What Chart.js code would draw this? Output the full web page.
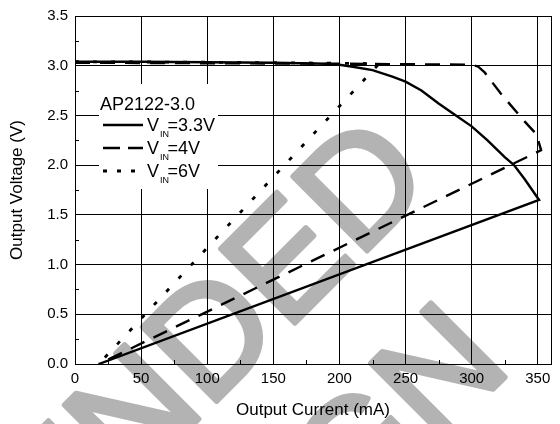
<!DOCTYPE html>
<html><head><meta charset="utf-8">
<script src="https://cdn.jsdelivr.net/npm/chart.js@4.4.1/dist/chart.umd.min.js"></script>
<style>html,body{margin:0;padding:0;background:#fff;}#wrap{width:560px;height:424px;position:relative;}</style>
</head><body><div id="wrap"><canvas id="c"></canvas></div>
<script>
// ---- data ----
const xTickValues = [0, 50, 100, 150, 200, 250, 300, 350];
const yTickValues = [0.0, 0.5, 1.0, 1.5, 2.0, 2.5, 3.0, 3.5];
const legendTitle = 'AP2122-3.0';
const seriesNames = ['3.3V', '4V', '6V'];

const vin33I = [0, 50, 100, 150, 190, 200, 210, 225, 240, 250, 262, 275, 287, 300, 312, 325, 332, 340, 351, 18];
const vin33V = [3.04, 3.04, 3.035, 3.03, 3.02, 3.01, 2.99, 2.955, 2.89, 2.84, 2.75, 2.62, 2.51, 2.39, 2.25, 2.08, 2.0, 1.86, 1.65, 0];

const vin4I = [0, 100, 200, 300, 305, 310, 322, 340, 349, 352.5, 18];
const vin4V = [3.03, 3.025, 3.02, 3.01, 2.99, 2.93, 2.72, 2.44, 2.31, 2.15, 0];

const vin6I = [0, 100, 200, 230, 18];
const vin6V = [3.04, 3.035, 3.025, 3.02, 0];

const watermarkLines = ['NOT RECOMMENDED', 'FOR NEW DESIGN'];

// ---- build ----
const pts = (xs, ys) => xs.map((x, i) => ({x: x, y: ys[i]}));
const FONT = '"Liberation Sans", Arial, Helvetica, sans-serif';
const styles = [
  {dash: [], width: 2.4, legDash: [], legEnd: 143},
  {dash: [15, 10], width: 2.4, legDash: [17, 8], legEnd: 143},
  {dash: [4, 14], width: 2.8, legDash: [4, 10], legEnd: 137}
];

const watermark = {
  id: 'watermark',
  beforeDraw(chart) {
    const ctx = chart.ctx;
    ctx.save();
    ctx.fillStyle = '#b3b3b3';
    ctx.strokeStyle = '#b3b3b3';
    ctx.lineWidth = 5;
    ctx.lineJoin = 'round';
    ctx.rotate(-Math.PI / 4);
    ctx.font = '153px ' + FONT;
    ctx.textAlign = 'right';
    ctx.textBaseline = 'alphabetic';
    const pos = [[180, 437], [103, 624]];
    watermarkLines.forEach((t, i) => {
      ctx.fillText(t, pos[i][0], pos[i][1]);
      ctx.strokeText(t, pos[i][0], pos[i][1]);
    });
    ctx.restore();
  }
};

const frame = {
  id: 'frame',
  beforeDatasetsDraw(chart) {
    const ctx = chart.ctx, a = chart.chartArea;
    const xs = chart.scales.x, ys = chart.scales.y;
    ctx.save();
    ctx.strokeStyle = '#000';
    ctx.lineWidth = 1;
    // minor ticks inward
    ctx.beginPath();
    for (let v = 25; v < 360; v += 50) {
      const px = Math.round(xs.getPixelForValue(v)) + 0.5;
      ctx.moveTo(px, a.bottom); ctx.lineTo(px, a.bottom - 4);
    }
    for (let v = 0.25; v < 3.5; v += 0.5) {
      const py = Math.round(ys.getPixelForValue(v)) + 0.5;
      ctx.moveTo(a.left, py); ctx.lineTo(a.left + 4, py);
    }
    ctx.stroke();
    ctx.strokeRect(Math.round(a.left) + 0.5, Math.round(a.top) + 0.5, Math.round(a.right - a.left), Math.round(a.bottom - a.top));
    // legend box background
    ctx.fillStyle = '#fff';
    ctx.fillRect(99, 84, 119, 105);
    ctx.restore();
  },
  afterDatasetsDraw(chart) {
    const ctx = chart.ctx;
    ctx.save();
    ctx.fillStyle = '#000';
    ctx.strokeStyle = '#000';
    ctx.textBaseline = 'alphabetic';
    ctx.textAlign = 'left';
    ctx.font = '18px ' + FONT;
    ctx.fillText(legendTitle, 100, 110);
    const rowY = [125, 148, 171];
    seriesNames.forEach((n, i) => {
      const y = rowY[i];
      ctx.setLineDash(styles[i].legDash);
      ctx.lineWidth = styles[i].width;
      ctx.beginPath();
      ctx.moveTo(103, y); ctx.lineTo(styles[i].legEnd, y);
      ctx.stroke();
      ctx.setLineDash([]);
      ctx.font = '18px ' + FONT;
      ctx.fillText('V', 147, y + 5.5);
      ctx.font = '9px ' + FONT;
      ctx.fillText('IN', 160, y + 12);
      ctx.font = '18px ' + FONT;
      ctx.fillText('=' + n, 167.5, y + 5.5);
    });
    ctx.restore();
  }
};

new Chart(document.getElementById('c'), {
  type: 'scatter',
  data: {
    datasets: [
      {label: 'VIN=' + seriesNames[0], data: pts(vin33I, vin33V)},
      {label: 'VIN=' + seriesNames[1], data: pts(vin4I, vin4V)},
      {label: 'VIN=' + seriesNames[2], data: pts(vin6I, vin6V)}
    ].map((d, i) => Object.assign(d, {
      showLine: true, pointRadius: 0, borderColor: '#000', backgroundColor: '#000',
      borderWidth: styles[i].width, borderDash: styles[i].dash, tension: 0,
      borderCapStyle: 'butt', borderJoinStyle: 'miter', fill: false
    }))
  },
  options: {
    responsive: true, maintainAspectRatio: false, animation: false,
    devicePixelRatio: 1,
    layout: {padding: {top: 14, right: 9, left: 0, bottom: 0}},
    plugins: {legend: {display: false}, tooltip: {enabled: false}},
    scales: {
      x: {
        type: 'linear', min: 0, max: 360,
        afterFit(s) { s.height = 60; },
        afterBuildTicks(s) { s.ticks = xTickValues.map(v => ({value: v})); },
        grid: {color: '#000', lineWidth: 1, drawTicks: false},
        border: {display: true, color: '#000', width: 1},
        ticks: {color: '#000', padding: 6, font: {family: FONT, size: 15}, maxRotation: 0, callback: v => String(v)},
        title: {display: true, text: 'Output Current (mA)', color: '#000', font: {family: FONT, size: 17}, padding: {top: 0, bottom: 3}}
      },
      y: {
        type: 'linear', min: 0, max: 3.5,
        afterFit(s) { s.width = 75; },
        afterBuildTicks(s) { s.ticks = yTickValues.map(v => ({value: v})); },
        grid: {color: '#000', lineWidth: 1, drawTicks: false},
        border: {display: true, color: '#000', width: 1},
        ticks: {color: '#000', padding: 7, font: {family: FONT, size: 15}, callback: v => Number(v).toFixed(1)},
        title: {display: true, text: 'Output Voltage (V)', color: '#000', font: {family: FONT, size: 17}, padding: {top: 7, bottom: 0}}
      }
    }
  },
  plugins: [watermark, frame]
});
</script></body></html>
